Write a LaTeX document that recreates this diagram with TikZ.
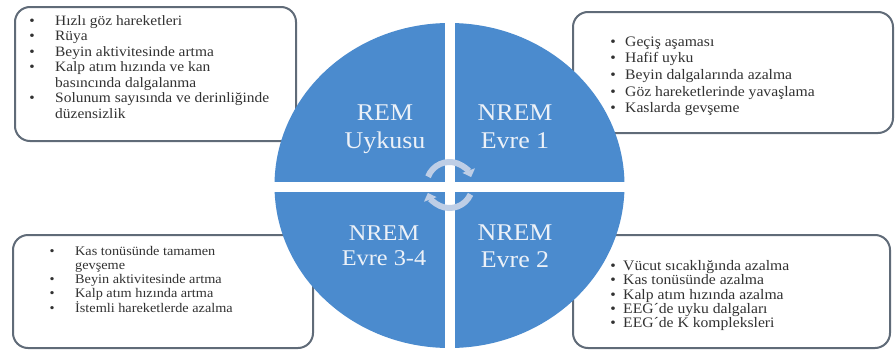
\documentclass[tikz,border=0pt]{standalone}
\usepackage{fontspec}
\setmainfont{Liberation Serif}[FakeStretch=1.08]
\usetikzlibrary{arrows.meta}
\definecolor{circblue}{RGB}{75,139,206}
\definecolor{boxline}{RGB}{96,107,120}
\definecolor{arrowc}{RGB}{190,206,230}
\definecolor{lbltext}{RGB}{236,241,248}
\definecolor{bodytext}{RGB}{50,50,50}
\newcommand{\bul}[1]{\makebox[#1][l]{\makebox[0pt]{•}}}
\begin{document}
\begin{tikzpicture}[x=1pt,y=-1pt,
  boxst/.style={draw=boxline, line width=2pt, fill=white, rounded corners=15pt, inner sep=0pt},
  listst/.style={anchor=base west, inner sep=0pt, text=bodytext},
  lbl/.style={anchor=base, inner sep=0pt, text=lbltext, font=\fontsize{24}{28}\selectfont},
  cyc/.style={draw=arrowc, line width=6pt, -{Triangle[width=13pt,length=7pt]}}
]
\useasboundingbox (0,0) rectangle (896,356);
\fill[white] (0,0) rectangle (896,356);

% boxes
\node[boxst, minimum width=281pt, minimum height=134pt] (b1) at (155.5,74) {};
\node[boxst, minimum width=320pt, minimum height=121pt] (b2) at (733,72.5) {};
\node[boxst, minimum width=300pt, minimum height=113pt] (b3) at (163,291.5) {};
\node[boxst, minimum width=317pt, minimum height=113pt] (b4) at (731.5,291.5) {};

% lists
\node[listst, font=\fontsize{14.3}{15.5}\selectfont] (t1) at (32,25) {\begin{tabular}[t]{@{}l@{}l@{}}
\bul{23pt} & Hızlı göz hareketleri\\
\bul{23pt} & Rüya\\
\bul{23pt} & Beyin aktivitesinde artma\\
\bul{23pt} & Kalp atım hızında ve kan\\
 & basıncında dalgalanma\\
\bul{23pt} & Solunum sayısında ve derinliğinde\\
 & düzensizlik
\end{tabular}};

\node[listst, font=\fontsize{14.5}{16.7}\selectfont] (t2) at (613,46) {\begin{tabular}[t]{@{}l@{}l@{}}
\bul{12pt} & Geçiş aşaması\\
\bul{12pt} & Hafif uyku\\
\bul{12pt} & Beyin dalgalarında azalma\\
\bul{12pt} & Göz hareketlerinde yavaşlama\\
\bul{12pt} & Kaslarda gevşeme
\end{tabular}};

\node[listst, font=\fontsize{13.2}{14.2}\selectfont] (t3) at (52,255) {\begin{tabular}[t]{@{}l@{}l@{}}
\bul{23pt} & Kas tonüsünde tamamen\\
 & gevşeme\\
\bul{23pt} & Beyin aktivitesinde artma\\
\bul{23pt} & Kalp atım hızında artma\\
\bul{23pt} & İstemli hareketlerde azalma
\end{tabular}};

\node[listst, font=\fontsize{14.5}{14.2}\selectfont] (t4) at (613,270.5) {\begin{tabular}[t]{@{}l@{}l@{}}
\bul{10pt} & Vücut sıcaklığında azalma\\
\bul{10pt} & Kas tonüsünde azalma\\
\bul{10pt} & Kalp atım hızında azalma\\
\bul{10pt} & EEG´de uyku dalgaları\\
\bul{10pt} & EEG´de K kompleksleri
\end{tabular}};

% circle
\fill[circblue] (449.5,185.5) ellipse [x radius=175, y radius=162.5];
\begin{scope}
\clip (449.5,185.5) ellipse [x radius=176, y radius=163.5];
\fill[white] (445,0) rectangle (455,356);
\fill[white] (270,181.7) rectangle (630,191.7);
\end{scope}

% labels
\node[lbl] (l1a) at (385,120) {REM};
\node[lbl] (l1b) at (385,148) {Uykusu};
\node[lbl] (l2a) at (515,120) {NREM};
\node[lbl] (l2b) at (515,148) {Evre 1};
\node[lbl, font=\fontsize{22.5}{26}\selectfont] (l3a) at (384,240) {NREM};
\node[lbl, font=\fontsize{22.5}{26}\selectfont] (l3b) at (384,265) {Evre 3-4};
\node[lbl] (l4a) at (515,240) {NREM};
\node[lbl] (l4b) at (515,267) {Evre 2};

% cycle arrows
\coordinate (cc) at (449.5,185);
\draw[cyc] ([shift={(201:23)}]cc) arc[start angle=201, end angle=340, radius=23];
\draw[cyc] ([shift={(24:23)}]cc) arc[start angle=24, end angle=160, radius=23];
\end{tikzpicture}
\end{document}
